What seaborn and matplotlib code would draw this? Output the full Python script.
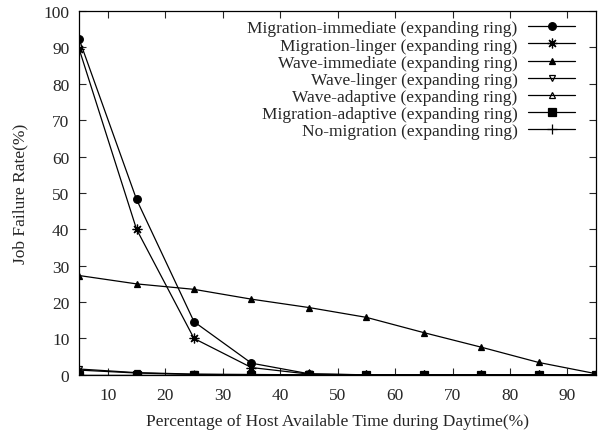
import matplotlib
matplotlib.use('Agg')
import matplotlib.pyplot as plt
import seaborn as sns
import pandas as pd

# data
avail = [5, 15, 25, 35, 45, 55, 65, 75, 85, 95]
mig_immediate = [92.3, 48.2, 14.6, 3.2, 0.3, 0, 0, 0, 0, 0]
mig_linger = [89.6, 40.0, 10.0, 2.0, 0.2, 0, 0, 0, 0, 0]
wave_immediate = [27.3, 25.0, 23.5, 20.8, 18.5, 15.8, 11.6, 7.6, 3.4, 0.3]
wave_linger = [1.6, 0.6, 0.2, 0.1, 0, 0, 0, 0, 0, 0]
wave_adaptive = [1.3, 0.5, 0.1, 0, 0, 0, 0, 0, 0, 0]
mig_adaptive = [0, 0, 0, 0, 0, 0, 0, 0, 0, 0]
no_migration = [0, 0, 0, 0, 0, 0, 0, 0, 0, 0]

series = [
    ('Migration-immediate (expanding ring)', mig_immediate, 'o', 'black', 5.5),
    ('Migration-linger (expanding ring)', mig_linger, (8, 2, 0), 'black', 7),
    ('Wave-immediate (expanding ring)', wave_immediate, '^', 'black', 5),
    ('Wave-linger (expanding ring)', wave_linger, 'v', 'none', 5),
    ('Wave-adaptive (expanding ring)', wave_adaptive, '^', 'none', 5),
    ('Migration-adaptive (expanding ring)', mig_adaptive, 's', 'black', 6),
    ('No-migration (expanding ring)', no_migration, '+', 'black', 7),
]

sns.set_style('ticks')
plt.rcParams['font.family'] = ['Liberation Serif', 'DejaVu Serif']
fs = 12.5

fig = plt.figure(figsize=(6.04, 4.31), dpi=100)
ax = fig.add_axes([0.131, 0.128, 0.856, 0.844])

for name, vals, mk, fc, ms in series:
    df = pd.DataFrame({'x': avail, 'y': vals})
    sns.lineplot(data=df, x='x', y='y', ax=ax, color='black', lw=0.9,
                 marker=mk, markersize=ms, markerfacecolor=fc,
                 markeredgecolor='black', markeredgewidth=0.9, label=name)

ax.set_xlim(5, 95)
ax.set_ylim(0, 100)
ax.set_xticks(range(10, 100, 10))
ax.set_yticks(range(0, 101, 10))
ax.tick_params(direction='in', top=True, right=True, length=5, width=0.8,
               labelsize=fs, pad=7)
ax.tick_params(axis='x', pad=9)
for s in ax.spines.values():
    s.set_linewidth(0.9)
    s.set_color('black')

ax.set_xlabel('Percentage of Host Available Time during Daytime(%)', fontsize=fs,
              labelpad=7)
ax.set_ylabel('Job Failure Rate(%)', fontsize=fs, labelpad=11)

ax.legend(loc='upper right', bbox_to_anchor=(0.959, 0.975), frameon=False,
          markerfirst=False, fontsize=fs, handlelength=2.7, labelspacing=0.06,
          borderaxespad=0, borderpad=0, handletextpad=0.6)

fig.savefig('out.png', dpi=100)
